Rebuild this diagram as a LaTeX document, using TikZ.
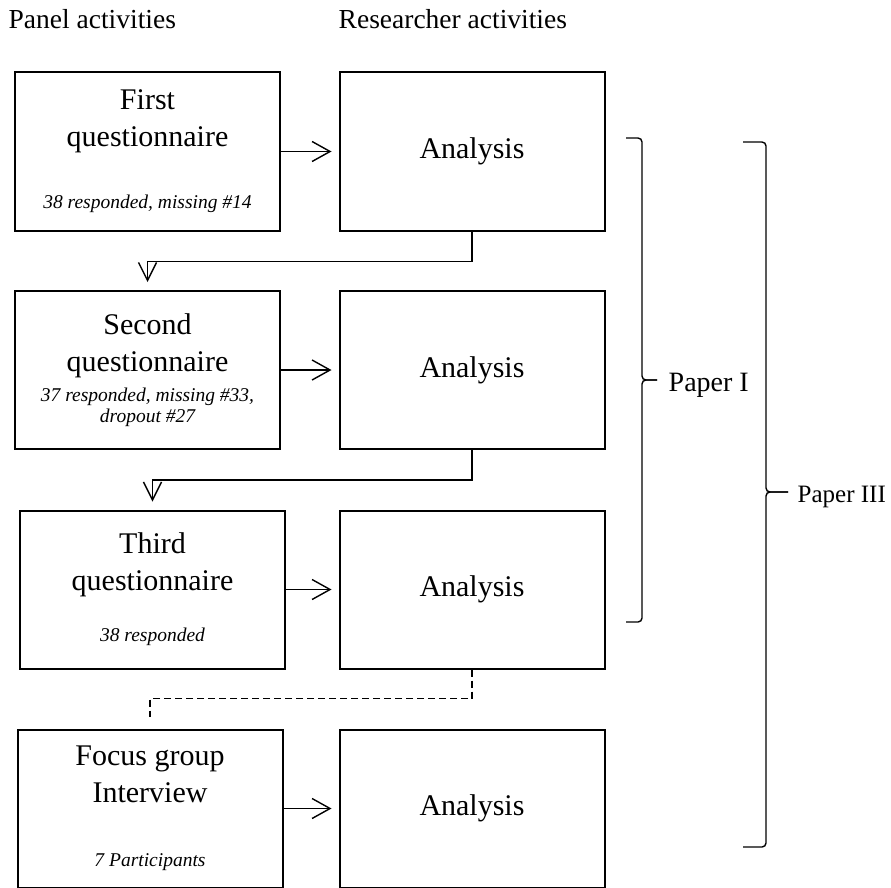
\documentclass[tikz,border=0pt]{standalone}
\usepackage{fontspec}
\setmainfont{Liberation Serif}
\usetikzlibrary{arrows.meta}
\newcommand{\handover}[2]{\draw[-{Straight Barb[length=18pt,width=20pt]}, shorten >=7pt] (#1) -- (#2)}
\newcommand{\nextround}[2]{\draw[-{Straight Barb[length=18pt,width=18pt]}, shorten >=8pt] (#1) -- ++(0,30) -| (#2)}
\newcommand{\followup}[2]{\draw[dash pattern=on 7pt off 4pt, shorten >=12pt] (#1) -- ++(0,29) -| (#2)}
\newcommand{\paperbrace}[3]{\draw[rounded corners=4pt] (#1) -| ([xshift=-#3]#2) -- (#2)}
\newcommand{\respnote}[1]{{\fontsize{19.5}{21}\selectfont\itshape #1}}

\begin{document}
\begin{tikzpicture}[x=1pt, y=-1pt,
                    line width=1.4pt,
                    font=\fontsize{30}{37}\selectfont,
                    stage/.style={
                        draw, line width=2pt,
                        minimum width=265pt, minimum height=158pt,
                        inner sep=0pt, align=center
                    },
                    header/.style={
                        font=\fontsize{27.5}{33}\selectfont,
                        anchor=base west, inner sep=0pt
                    },
                    paper/.style={
                        anchor=base west, inner sep=0pt
                    }]
    \useasboundingbox (0,0) rectangle (891,888);

    \node[header] (panel) at (8,29) {Panel activities};
    \node[header] (research) at (338,29) {Researcher activities};

    \node[stage] (q1) at (147.5,151.5) {First\\questionnaire\\[25pt]\respnote{38 responded, missing \#14}};
    \node[stage] (q2) at (147.5,370) {Second\\questionnaire\\[-7pt]\respnote{37 responded, missing \#33,}\\[-16pt]\respnote{dropout \#27}};
    \node[stage] (q3) at (152.5,589.5) {Third\\questionnaire\\[14pt]\respnote{38 responded}};
    \node[stage] (fg) at (150,808.5) {Focus group\\Interview\\[27pt]\respnote{7 Participants}};

    \node[stage] (a1) at (472,151.5) {Analysis};
    \node[stage] (a2) at (472,370) {Analysis};
    \node[stage] (a3) at (472,589.5) {Analysis};
    \node[stage] (a4) at (472,808.5) {Analysis};

    \node[paper, font=\fontsize{28}{34}\selectfont] (pI) at (668,391) {Paper I};
    \node[paper, font=\fontsize{25}{30}\selectfont] (pIII) at (797,502) {Paper III};

    \coordinate (p1top) at (626,138);
    \coordinate (p1bot) at (626,622);
    \coordinate (p1tip) at (657,380);
    \coordinate (p3top) at (743,142);
    \coordinate (p3bot) at (743,847);
    \coordinate (p3tip) at (788,492);

    \handover{q1.east}{a1.west};
    \handover{q2.east}{a2.west};
    \handover{q3.east}{a3.west};
    \handover{fg.east}{a4.west};

    \nextround{a1.south}{q2.north};
    \nextround{a2.south}{q3.north};
    \followup{a3.south}{fg.north};

    \paperbrace{p1top}{p1tip}{15pt};
    \paperbrace{p1bot}{p1tip}{15pt};
    \paperbrace{p3top}{p3tip}{22pt};
    \paperbrace{p3bot}{p3tip}{22pt};
\end{tikzpicture}
\end{document}
